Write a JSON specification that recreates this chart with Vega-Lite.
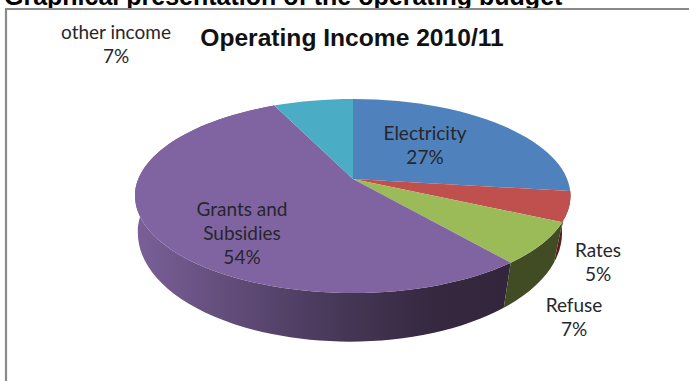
{
  "$schema": "https://vega.github.io/schema/vega-lite/v6.json",
  "width": 689,
  "height": 381,
  "padding": 0,
  "autosize": {"type": "none"},
  "background": "#ffffff",
  "view": {"stroke": null},
  "config": {"text": {"font": "Lato"}},
  "data": {
    "values": [
      {"slice": "Electricity", "share": 27},
      {"slice": "Rates", "share": 5},
      {"slice": "Refuse", "share": 7},
      {"slice": "Grants and Subsidies", "share": 54},
      {"slice": "other income", "share": 7}
    ]
  },
  "transform": [
    {"stack": "share", "groupby": [], "as": ["start", "end"]},
    {"calculate": "datum.start * PI / 50", "as": "t0"},
    {"calculate": "datum.end * PI / 50", "as": "t1"},
    {"calculate": "round(2141 * sin(datum.t0) / (1 + 0.175 * cos(datum.t0))) / 10", "as": "x0"},
    {"calculate": "round(-940 * cos(datum.t0) / (1 + 0.175 * cos(datum.t0))) / 10", "as": "y0"},
    {"calculate": "round(2141 * sin(datum.t1) / (1 + 0.175 * cos(datum.t1))) / 10", "as": "x1"},
    {"calculate": "round(-940 * cos(datum.t1) / (1 + 0.175 * cos(datum.t1))) / 10", "as": "y1"},
    {"calculate": "datum.share > 50 ? 1 : 0", "as": "large"},
    {"calculate": "'M0,0L' + datum.x0 + ',' + datum.y0 + 'A217.5,97,0,' + datum.large + ',1,' + datum.x1 + ',' + datum.y1 + 'Z'", "as": "face"},
    {"calculate": "'M' + datum.x0 + ',' + datum.y0 + 'A217.5,97,0,' + datum.large + ',1,' + datum.x1 + ',' + datum.y1 + 'L' + (0.975 * datum.x1 - 3) + ',' + (1.12 * datum.y1 + 35) + 'A212,108.6,0,' + datum.large + ',0,' + (0.975 * datum.x0 - 3) + ',' + (1.12 * datum.y0 + 35) + 'Z'", "as": "rim"},
    {"calculate": "replace(datum.slice, ' and ', ' and\\n') + '\\n' + datum.share + '%'", "as": "label"},
    {"calculate": "{'Electricity': 72, 'Rates': 245, 'Refuse': 221, 'Grants and Subsidies': -111, 'other income': -237}[datum.slice]", "as": "labelX"},
    {"calculate": "{'Electricity': -39, 'Rates': 78, 'Refuse': 133, 'Grants and Subsidies': 37, 'other income': -140}[datum.slice]", "as": "labelY"}
  ],
  "layer": [
    {
      "data": {"values": [{"part": "heading"}]},
      "transform": [],
      "mark": {"type": "text", "text": "Graphical presentation of the operating budget", "font": "Liberation Sans", "fontWeight": "bold", "fontSize": 25, "align": "left", "baseline": "alphabetic", "color": "#000000"},
      "encoding": {
        "x": {"datum": -349, "type": "quantitative", "scale": {"domain": [-353, 336], "nice": false, "zero": false}, "axis": null},
        "y": {"datum": -174, "type": "quantitative", "scale": {"domain": [202, -179], "nice": false, "zero": false}, "axis": null}
      }
    },
    {
      "data": {"values": [{"part": "frame"}]},
      "transform": [],
      "mark": {"type": "rect", "color": "#ffffff"},
      "encoding": {
        "x": {"datum": -347, "type": "quantitative", "scale": {"domain": [-353, 336], "nice": false, "zero": false}, "axis": null},
        "x2": {"datum": 336},
        "y": {"datum": -170, "type": "quantitative", "scale": {"domain": [202, -179], "nice": false, "zero": false}, "axis": null},
        "y2": {"datum": 202}
      }
    },
    {
      "data": {"values": [{"part": "frame"}]},
      "transform": [],
      "mark": {"type": "rule", "color": "#8a8a8a", "strokeWidth": 2.2},
      "encoding": {
        "x": {"datum": -347, "type": "quantitative", "scale": {"domain": [-353, 336], "nice": false, "zero": false}, "axis": null},
        "y": {"datum": -170, "type": "quantitative", "scale": {"domain": [202, -179], "nice": false, "zero": false}, "axis": null},
        "y2": {"datum": 202}
      }
    },
    {
      "data": {"values": [{"part": "frame"}]},
      "transform": [],
      "mark": {"type": "rule", "color": "#8a8a8a", "strokeWidth": 2.2},
      "encoding": {
        "x": {"datum": -348, "type": "quantitative", "scale": {"domain": [-353, 336], "nice": false, "zero": false}, "axis": null},
        "x2": {"datum": 336},
        "y": {"datum": -170, "type": "quantitative", "scale": {"domain": [202, -179], "nice": false, "zero": false}, "axis": null}
      }
    },
    {
      "data": {"values": [{"part": "chart title"}]},
      "transform": [],
      "mark": {"type": "text", "text": "Operating Income 2010/11", "font": "Liberation Sans", "fontWeight": "bold", "fontSize": 24.6, "align": "center", "baseline": "alphabetic", "color": "#111111"},
      "encoding": {
        "x": {"datum": -1, "type": "quantitative", "scale": {"domain": [-353, 336], "nice": false, "zero": false}, "axis": null},
        "y": {"datum": -133, "type": "quantitative", "scale": {"domain": [202, -179], "nice": false, "zero": false}, "axis": null}
      }
    },
    {
      "transform": [{"filter": "datum.slice === 'Grants and Subsidies'"}],
      "mark": {
        "type": "point", "filled": true, "opacity": 1, "size": 4, "strokeWidth": 0,
        "fill": {
          "gradient": "linear", "x1": 0, "y1": 0, "x2": 1, "y2": 0,
          "stops": [
            {"offset": 0, "color": "#7a6098"},
            {"offset": 0.5, "color": "#4a3a5c"},
            {"offset": 0.8, "color": "#35283f"},
            {"offset": 1, "color": "#33263c"}
          ]
        }
      },
      "encoding": {
        "x": {"datum": 0, "type": "quantitative", "scale": {"domain": [-353, 336], "nice": false, "zero": false}, "axis": null},
        "y": {"datum": 0, "type": "quantitative", "scale": {"domain": [202, -179], "nice": false, "zero": false}, "axis": null},
        "shape": {"field": "rim", "type": "nominal", "scale": null, "legend": null}
      }
    },
    {
      "transform": [{"filter": "datum.slice === 'Rates' || datum.slice === 'Refuse'"}],
      "mark": {"type": "point", "filled": true, "opacity": 1, "size": 4, "strokeWidth": 0},
      "encoding": {
        "x": {"datum": 0, "type": "quantitative", "scale": {"domain": [-353, 336], "nice": false, "zero": false}, "axis": null},
        "y": {"datum": 0, "type": "quantitative", "scale": {"domain": [202, -179], "nice": false, "zero": false}, "axis": null},
        "shape": {"field": "rim", "type": "nominal", "scale": null, "legend": null},
        "fill": {"field": "slice", "type": "nominal", "scale": {"domain": ["Rates", "Refuse"], "range": ["#5e1e1e", "#414b24"]}, "legend": null}
      }
    },
    {
      "mark": {"type": "point", "filled": true, "opacity": 1, "size": 4, "strokeWidth": 0},
      "encoding": {
        "x": {"datum": 0, "type": "quantitative", "scale": {"domain": [-353, 336], "nice": false, "zero": false}, "axis": null},
        "y": {"datum": 0, "type": "quantitative", "scale": {"domain": [202, -179], "nice": false, "zero": false}, "axis": null},
        "shape": {"field": "face", "type": "nominal", "scale": null, "legend": null},
        "color": {
          "field": "slice", "type": "nominal", "legend": null,
          "scale": {
            "domain": ["Electricity", "Rates", "Refuse", "Grants and Subsidies", "other income"],
            "range": ["#4f81bd", "#c0504d", "#9bbb59", "#8064a2", "#4bacc6"]
          }
        }
      }
    },
    {
      "mark": {"type": "text", "font": "Lato", "fontSize": 19, "lineBreak": "\n", "lineHeight": 24, "align": "center", "baseline": "alphabetic", "color": "#26262c"},
      "encoding": {
        "x": {"field": "labelX", "type": "quantitative", "scale": {"domain": [-353, 336], "nice": false, "zero": false}, "axis": null},
        "y": {"field": "labelY", "type": "quantitative", "scale": {"domain": [202, -179], "nice": false, "zero": false}, "axis": null},
        "text": {"field": "label", "type": "nominal"}
      }
    }
  ]
}
